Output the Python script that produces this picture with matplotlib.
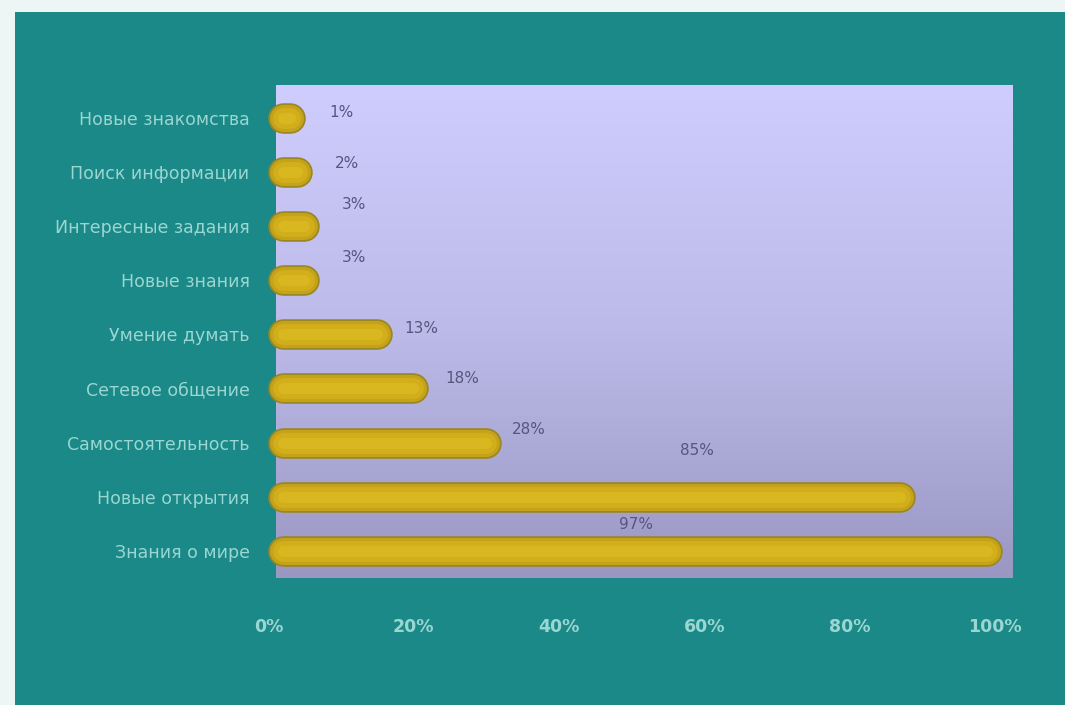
import numpy as np
import matplotlib.pyplot as plt
import matplotlib.transforms as mtransforms
from matplotlib.colors import LinearSegmentedColormap
from matplotlib.patches import Rectangle

# survey answers, listed top to bottom
categories = ["Новые знакомства", "Поиск информации", "Интересные задания",
              "Новые знания", "Умение думать", "Сетевое общение",
              "Самостоятельность", "Новые открытия", "Знания о мире"]
values = [1, 2, 3, 3, 13, 18, 28, 85, 97]
xticks = [0, 20, 40, 60, 80, 100]

# label offsets from the bar end, in pixels (dx, dy)
label_offsets = [(52, 5), (50, 8), (50, 21), (50, 23), (44, 6),
                 (49, 10), (43, 13), (-203, 46), (-351, 26)]

W, H = 1065, 705
fig = plt.figure(figsize=(W / 100, H / 100), dpi=100)
fig.patch.set_facecolor("#eef5f5")
fig.add_artist(Rectangle((0.014, 0), 0.986, 0.983, transform=fig.transFigure,
                         facecolor="#1a8987", edgecolor="none", zorder=-1))

ax = fig.add_axes([276 / W, 1 - 578 / H, 737 / W, 493 / H])
ax.set_zorder(1)
ax.set_xlim(-0.9, 100.6)
ax.set_ylim(8.5, -0.6)
for s in ax.spines.values():
    s.set_visible(False)

# back wall gradient
wall = LinearSegmentedColormap.from_list("wall", ["#cecdfd", "#bcbae8", "#9a97c3"])
ax.imshow(np.linspace(0, 1, 256).reshape(-1, 1), cmap=wall, aspect="auto",
          extent=[-0.9, 100.6, 8.5, -0.6], zorder=0)

# cylinder-like bars: stacked round-capped lines from dark rim to light core
y = np.arange(len(categories))
layers = [(22, "#9a8622"), (19.5, "#c4a31a"), (15, "#d2ae1a"), (8, "#d9b720")]
for lw, col in layers:
    lc = ax.hlines(y, 0, values, colors=col, linewidth=lw, zorder=2, clip_on=False)
    lc.set_capstyle("round")

# value labels
for yi, v, (dx, dy) in zip(y, values, label_offsets):
    ax.annotate(f"{v}%", (v, yi), xytext=(dx * 0.72, dy * 0.72),
                textcoords="offset points", ha="center", va="center",
                fontsize=11, color="#56567e", zorder=3)

ax.set_yticks(y)
ax.set_yticklabels(categories, fontsize=12.5, color="#9ad6d2")
ax.set_xticks(xticks)
ax.set_xticklabels([f"{t}%" for t in xticks], fontsize=12.5, color="#9ad6d2",
                   fontweight="bold")
ax.tick_params(axis="y", length=0, pad=19)
ax.tick_params(axis="x", length=0, pad=29)

# floor labels sit slightly left of the wall in the 3D view
shift = mtransforms.ScaledTranslation(-14 / 100, 0, fig.dpi_scale_trans)
for lbl in ax.get_xticklabels():
    lbl.set_transform(lbl.get_transform() + shift)

fig.savefig("out.png", dpi=100)
